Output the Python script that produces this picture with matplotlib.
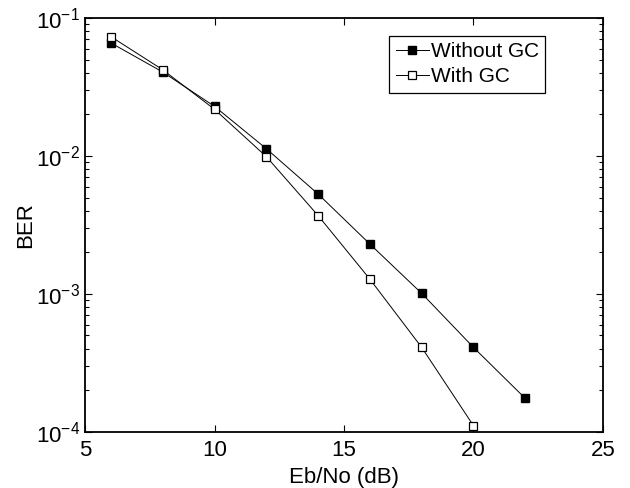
import numpy as np
import matplotlib
matplotlib.use("Agg")
from matplotlib import pyplot as plt
from matplotlib.ticker import LogLocator, NullFormatter

plt.rcParams['font.family'] = ['Liberation Sans', 'DejaVu Sans']

# Eb/No points (dB) and measured bit error rates
ebno_without = [6, 8, 10, 12, 14, 16, 18, 20, 22]
ber_without = [0.066, 0.0406, 0.0229, 0.0113, 0.0053, 0.0023, 0.00101, 0.00041, 0.000175]

ebno_with = [6, 8, 10, 12, 14, 16, 18, 20]
ber_with = [0.0733, 0.0422, 0.0218, 0.0099, 0.0037, 0.00128, 0.00041, 0.000111]

fig = plt.figure(figsize=(6.3, 4.88), dpi=100)
ax = fig.add_axes([0.135, 0.115, 0.822, 0.848])

ax.semilogy(ebno_without, ber_without, 'k-s', lw=0.7, ms=6,
            markerfacecolor='k', markeredgecolor='k', label='Without GC')
ax.semilogy(ebno_with, ber_with, 'k-s', lw=0.7, ms=6,
            markerfacecolor='w', markeredgecolor='k', markeredgewidth=0.9,
            label='With GC')

ax.set_xlim(5, 25)
ax.set_ylim(1e-4, 1e-1)
ax.set_xticks([5, 10, 15, 20, 25])
ax.yaxis.set_major_locator(LogLocator(base=10, numticks=10))
ax.yaxis.set_minor_locator(LogLocator(base=10, subs=np.arange(2, 10), numticks=10))
ax.yaxis.set_minor_formatter(NullFormatter())

ax.tick_params(which='both', direction='in', top=True, right=True, labelsize=16)
ax.tick_params(which='major', length=5, width=0.8)
ax.tick_params(which='minor', length=3, width=0.8)
ax.tick_params(axis='x', pad=6)
for s in ax.spines.values():
    s.set_linewidth(1.3)

ax.set_xlabel('Eb/No (dB)', fontsize=16, labelpad=4)
ax.set_ylabel('BER', fontsize=16, labelpad=0)

leg = ax.legend(loc='upper right', bbox_to_anchor=(0.909, 0.982), fontsize=15,
                fancybox=False, edgecolor='k', framealpha=1, handlelength=1.6,
                handletextpad=0.1, borderpad=0.3, labelspacing=0.3)
leg.get_frame().set_linewidth(0.9)

fig.savefig('out.png', dpi=100)
